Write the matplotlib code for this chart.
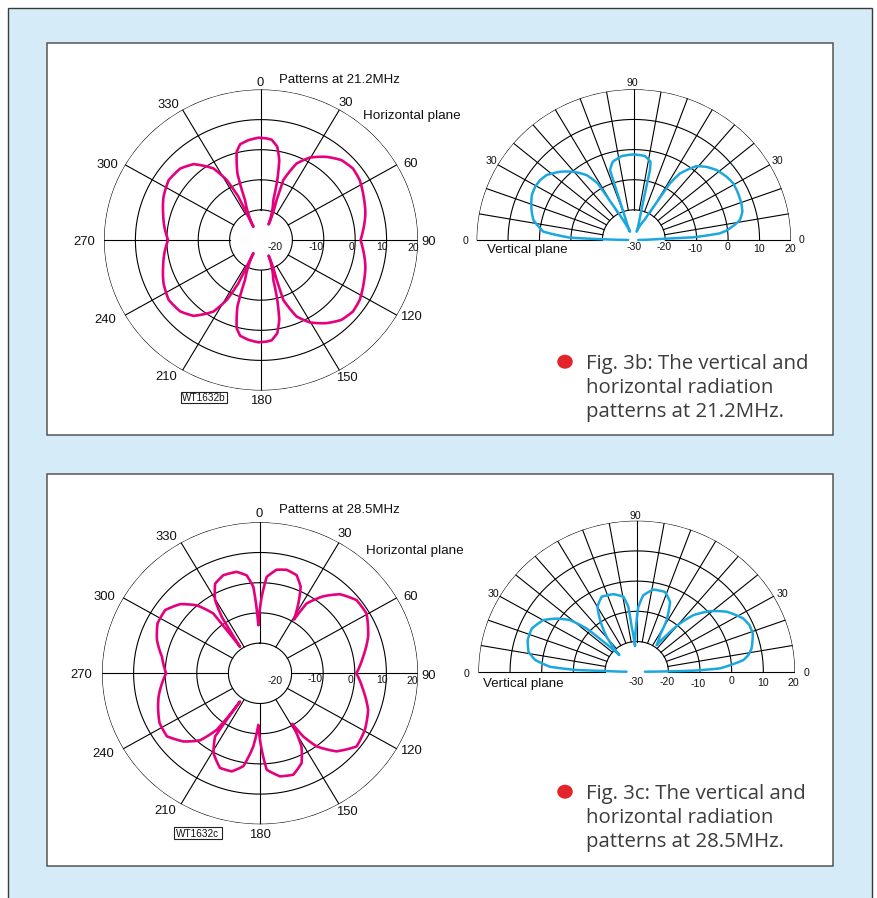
import numpy as np
import matplotlib
matplotlib.use("Agg")
import matplotlib.pyplot as plt
from matplotlib.patches import Rectangle, Ellipse

# ------------------------------------------------------------------ data
# Horizontal-plane pattern at 21.2 MHz (bearing deg clockwise from 0, level dB), traced in drawing order
hz1_theta = [0, 3.0, 5.8, 9.5, 12.4, 14.6, 16.5, 25.1,
             23.7, 20.5, 19.6, 24.0, 29.6, 37.0, 44.0, 51.0, 57.7, 66.3, 75.1, 84.2, 90,
             95.8, 104.9, 113.7, 122.3, 129.0, 136.0, 143.0, 150.4, 156.0, 160.4, 159.5, 156.3, 154.9,
             163.5, 165.4, 167.6, 170.5, 174.2, 177.0, 180, 181.4, 186.9, 191.8, 194.8, 198.8, 201.0, 208.8,
             207.2, 206.6, 208.7, 212.5, 220.4, 227.3, 235.9, 245.2, 254.2, 261.8, 270,
             278.2, 285.8, 294.8, 304.1, 312.7, 319.6, 327.5, 331.3, 333.4, 332.8, 331.2,
             339.0, 341.2, 345.2, 348.2, 353.1, 358.6, 360]
hz1_db = [3.9, 3.8, 3.5, 1.4, -2.9, -9.4, -16.2, -24.3,
          -21.6, -15.8, -8.9, -2.2, 1.5, 4.6, 6.9, 7.7, 7.2, 5.7, 4.4, 2.7, 1.7,
          2.7, 4.4, 5.7, 7.2, 7.7, 6.9, 4.6, 1.5, -2.2, -8.9, -15.8, -21.6, -24.3,
          -16.2, -9.4, -2.9, 1.4, 3.5, 3.8, 3.9, 4.0, 3.4, 2.5, 0.3, -6.7, -15.8, -25.0,
          -20.1, -13.9, -7.3, -1.8, 3.1, 5.0, 5.5, 4.2, 2.4, 1.1, -0.4,
          1.1, 2.4, 4.2, 5.5, 5.0, 3.1, -1.8, -7.3, -13.9, -20.1, -25.0,
          -15.8, -6.7, 0.3, 2.5, 3.4, 4.0, 3.9]

# Vertical-plane pattern at 21.2 MHz (elevation deg, level dB)
vt1_elev = [0.5, 2.6, 2.7, 4.6, 6.0, 9.6, 11.1, 15.2, 19.5, 25.0, 30.7, 35.5, 41.4, 46.4, 50.9,
            56.4, 58.6, 59.2, 60.3, 62.7, 71.9,
            75.8, 76.9, 77.3, 77.5, 78.4, 82.8, 90.3, 97.9, 104.5, 108.1, 108.4, 108.8, 109.9, 113.8,
            117.3, 119.7, 120.8, 121.4, 124.8, 130.3, 136.0, 142.1, 146.3, 150.6, 155.3, 159.6, 163.9,
            168.3, 174.5, 177.8, 178.6, 179.5]
vt1_db = [-28.6, -20.4, -11.1, -2.6, -0.4, 3.1, 4.4, 5.8, 6.3, 6.6, 6.8, 6.2, 5.1, 3.5, 1.6,
          -3.5, -8.0, -12.8, -17.5, -22.3, -27.1,
          -22.0, -16.7, -11.5, -6.2, -3.5, -1.9, -1.6, -1.9, -3.2, -5.6, -11.0, -16.3, -21.8, -27.0,
          -22.3, -17.5, -12.8, -8.0, -3.8, -0.3, 2.6, 5.1, 5.8, 6.0, 5.7, 4.8, 3.8,
          2.6, -1.1, -9.7, -20.3, -28.2]

# Horizontal-plane pattern at 28.5 MHz
hz2_theta = [-1.9, 1.2, 3.8, 8.7, 13.8, 19.6, 24.2, 27.7, 31.1,
             32.5, 38.1, 44.0, 51.6, 59.5, 70.5, 80.4, 90,
             99.6, 109.5, 119.4, 128.4, 136.9, 143.5, 146.8, 148.6,
             149.7, 151.5, 156.1, 162.6, 169.5, 176.2, 178.8, 181.8,
             185.0, 189.7, 195.4, 202.0, 209.2, 214.2, 214.4, 214.1,
             215.0, 216.2, 220.5, 227.0, 234.7, 242.6, 256.5, 270,
             280.0, 288.6, 297.0, 304.9, 312.2, 318.4, 323.3, 323.6, 324.3,
             325.9, 327.1, 329.6, 334.4, 340.4, 347.6, 352.6, 355.8, 356.9, 358.1]
hz2_db = [-14.0, -4.7, 2.0, 4.7, 5.3, 4.5, 1.4, -3.9, -9.2,
          -2.6, 2.4, 6.4, 9.0, 9.1, 6.3, 3.1, 0.5,
          3.1, 6.3, 8.1, 9.0, 5.4, 0.1, -5.0, -10.4,
          -7.1, -2.5, 2.5, 5.2, 4.7, 2.0, -4.7, -12.9,
          -5.7, 1.2, 3.7, 3.8, 0.2, -4.7, -11.3, -18.7,
          -12.6, -6.8, -0.8, 3.1, 6.1, 5.8, 3.0, -0.3,
          1.5, 4.4, 6.4, 6.6, 4.1, 0.1, -5.3, -12.2, -19.2,
          -14.1, -7.7, -1.9, 2.9, 4.5, 4.4, 2.7, -1.3, -6.9, -14.0]

# Vertical-plane pattern at 28.5 MHz
vt2_elev = [0, 0.6, 1.1, 2.4, 6.5, 8.9, 12.0, 19.1, 23.5, 27.6, 34.9, 40.9, 46.3, 49.5, 52.0, 54.4,
            58.7, 61.0, 65.5, 71.3, 79.1, 85.3, 88.6, 90.8, 93.6,
            96.1, 97.0, 99.6, 106.0, 114.0, 120.0, 124.1, 129.3, 134.8,
            136.6, 137.9, 140.9, 145.2, 149.9, 156.7, 163.0, 169.1, 173.1, 176.6, 178.3, 178.7, 180]
vt2_db = [-27.4, -20.5, -12.1, -3.7, 3.9, 5.7, 7.1, 8.8, 8.8, 8.0, 4.7, 0.6, -4.1, -9.0, -14.6, -19.2,
          -15.8, -10.5, -4.6, -2.1, -2.3, -4.6, -8.5, -15.1, -21.5,
          -15.0, -8.3, -4.8, -3.3, -2.8, -5.2, -9.4, -15.0, -22.2,
          -15.5, -8.7, -2.9, 0.8, 4.1, 6.1, 6.0, 4.8, 2.3, -2.6, -11.1, -20.5, -26.8]

ring_values = [-20, -10, 0, 10, 20]
ring_labels = ["-20", "-10", "0", "10", "20"]
vring_labels = ["-30", "-20", "-10", "0", "10", "20"]
bearing_ticks = ["0", "30", "60", "90", "120", "150", "180", "210", "240", "270", "300", "330"]
R_MIN, R_MAX = -30, 20

# ------------------------------------------------------------------ style
W, H, DPI = 878, 898, 100
PT = DPI / 72.0
PINK = "#e5007e"
BLUE = "#1ba8e0"
RED = "#e3242b"
BG = "#d6ebf8"
LBL = ["Liberation Sans", "DejaVu Sans"]
CAP = ["Open Sans", "DejaVu Sans"]
GRID_LW = 0.8

fig = plt.figure(figsize=(W / DPI, H / DPI), dpi=DPI)
fig.patch.set_facecolor("white")


def fx(x):
    return x / W


def fy(y):
    return 1 - y / H


def txt(x, cy, s, fs, ha="center", family=LBL, color="#111111", cap=0.716):
    base = cy + cap * fs * PT / 2.0
    fig.text(fx(x), fy(base), s, fontsize=fs, ha=ha, va="baseline",
             family=family, color=color)


# background frame and panels (below the axes)
fig.add_artist(Rectangle((fx(8), fy(910)), 864 / W, 902 / H, transform=fig.transFigure,
                         facecolor=BG, edgecolor="#3a3a3a", lw=1.0, zorder=-3))
for top, bot in [(43, 435), (474, 866)]:
    fig.add_artist(Rectangle((fx(47), fy(bot)), 786 / W, (bot - top) / H,
                             transform=fig.transFigure, facecolor="white",
                             edgecolor="#555555", lw=1.1, zorder=-2))


def polar_axes(cx, cy, rx, ry, zero, direction):
    ax = fig.add_axes([fx(cx - rx), fy(cy + ry), 2 * rx / W, 2 * ry / H], projection="polar")
    ax.set_aspect("auto")
    ax.set_theta_zero_location(zero)
    ax.set_theta_direction(direction)
    ax.set_xlim(0, 2 * np.pi)
    ax.set_ylim(R_MIN, R_MAX)
    ax.set_axis_off()
    ax.patch.set_visible(False)
    ax.set_zorder(1)
    return ax


def horizontal_grid(ax):
    t = np.linspace(0, 2 * np.pi, 721)
    for r in ring_values:
        ax.plot(t, np.full_like(t, r), color="k", lw=GRID_LW)
    for a in range(0, 360, 30):
        ax.plot([np.deg2rad(a)] * 2, [ring_values[0], ring_values[-1]], color="k", lw=GRID_LW)


def vertical_grid(ax):
    t = np.linspace(0, np.pi, 361)
    for r in ring_values:
        ax.plot(t, np.full_like(t, r), color="k", lw=GRID_LW)
    for a in range(0, 181, 10):
        ax.plot([np.deg2rad(a)] * 2, [ring_values[0], ring_values[-1]], color="k", lw=GRID_LW)


def pattern(ax, ang, db, color, lw):
    line, = ax.plot(np.deg2rad(ang), db, color=color, lw=lw,
                    solid_joinstyle="round", solid_capstyle="round")
    # let the polar projection draw each segment along the (theta, r) path
    line.get_path()._interpolation_steps = 12
    return line


# ------------------------------------------------------------------ panel 1 (21.2 MHz)
ax1 = polar_axes(261, 240, 157, 150.5, "N", -1)
horizontal_grid(ax1)
pattern(ax1, hz1_theta, hz1_db, PINK, 1.9)

ax2 = polar_axes(633.8, 240, 157.2, 150.7, "E", 1)
vertical_grid(ax2)
pattern(ax2, vt1_elev, vt1_db, BLUE, 1.8)

# ------------------------------------------------------------------ panel 2 (28.5 MHz)
ax3 = polar_axes(260, 673.3, 158, 151, "N", -1)
horizontal_grid(ax3)
pattern(ax3, hz2_theta, hz2_db, PINK, 1.9)

ax4 = polar_axes(636.7, 671.7, 158.3, 151, "E", 1)
vertical_grid(ax4)
pattern(ax4, vt2_elev, vt2_db, BLUE, 1.8)

# ------------------------------------------------------------------ labels
hz1_tick_pos = [(260.3, 81.7), (346, 101), (410.7, 162), (429, 240.7), (411, 315.7), (346.7, 376.7),
                (261, 399.3), (166.7, 375.7), (105.5, 318.3), (84.2, 240), (107, 163.3), (168.3, 103.5)]
hz2_tick_pos = [(258.7, 512.7), (345, 532.3), (410.7, 595), (429, 674), (410.7, 749.3), (346.7, 810.7),
                (259.7, 833.3), (165.3, 809.3), (103.3, 752.7), (81, 673.3), (104, 595.7), (166, 535.7)]
for lab, (x, y) in zip(bearing_ticks, hz1_tick_pos):
    txt(x, y, lab, 9.4)
for lab, (x, y) in zip(bearing_ticks, hz2_tick_pos):
    txt(x, y, lab, 9.4)

hz1_ring_pos = [(275, 246.7), (316, 246), (351.7, 246), (381.7, 246.7), (413.7, 247)]
hz2_ring_pos = [(275, 680), (315, 678.7), (351, 679.3), (381.7, 679.3), (412.7, 680)]
for lab, (x, y) in zip(ring_labels, hz1_ring_pos):
    txt(x, y, lab, 7.5)
for lab, (x, y) in zip(ring_labels, hz2_ring_pos):
    txt(x, y, lab, 7.5)

txt(279.3, 78.3, "Patterns at 21.2MHz", 9.5, ha="left")
txt(363.3, 114.3, "Horizontal plane", 9.7, ha="left")
txt(279.3, 508.3, "Patterns at 28.5MHz", 9.5, ha="left")
txt(366, 548.7, "Horizontal plane", 9.7, ha="left")

# vertical plot labels
vt1_ring_pos = [(633.7, 246.7), (664, 246.7), (695, 248.7), (727.7, 246.3), (758.7, 248.7), (790, 248.7)]
vt2_ring_pos = [(636.3, 681.7), (666.7, 681.7), (698, 683), (731.7, 680.7), (762.7, 682.7), (793.7, 682.7)]
for lab, (x, y) in zip(vring_labels, vt1_ring_pos):
    txt(x, y, lab, 7.6)
for lab, (x, y) in zip(vring_labels, vt2_ring_pos):
    txt(x, y, lab, 7.6)

for (x, y, s) in [(632.3, 82.7, "90"), (491.7, 160.3, "30"), (777.7, 160.3, "30"),
                  (465.7, 240.3, "0"), (802, 239.3, "0"),
                  (635.7, 515.3, "90"), (493.7, 593.3, "30"), (782.3, 593.3, "30"),
                  (466.7, 673.7, "0"), (806.7, 672.7, "0")]:
    txt(x, y, s, 7.6)

txt(486.7, 248, "Vertical plane", 9.6, ha="left")
txt(483.3, 682.5, "Vertical plane", 9.6, ha="left")

# figure codes in boxes
for (x0, y0, x1, y1, s) in [(180.7, 392, 227.3, 403.3, "WT1632b"), (174, 827.3, 222, 839.3, "WT1632c")]:
    fig.add_artist(Rectangle((fx(x0), fy(y1)), (x1 - x0) / W, (y1 - y0) / H,
                             transform=fig.transFigure, facecolor="white",
                             edgecolor="#222222", lw=0.8, zorder=3))
    t = fig.text(fx((x0 + x1) / 2), fy((y0 + y1) / 2 + 0.716 * 7.2 * PT / 2), s, fontsize=7.2,
                 ha="center", va="baseline", family=LBL, color="#111111")
    t.set_zorder(4)

# captions
captions = [["Fig. 3b: The vertical and", "horizontal radiation", "patterns at 21.2MHz."],
            ["Fig. 3c: The vertical and", "horizontal radiation", "patterns at 28.5MHz."]]
for lines, y0 in zip(captions, [361.7, 791.7]):
    fig.add_artist(Ellipse((fx(565), fy(y0)), 15.5 / W, 14 / H, transform=fig.transFigure,
                           facecolor=RED, edgecolor="none"))
    for i, line in enumerate(lines):
        txt(586, y0 + i * 24.2, line, 14.7, ha="left", family=CAP, color="#3c3c3c", cap=0.714)

fig.savefig("out.png", dpi=DPI)
